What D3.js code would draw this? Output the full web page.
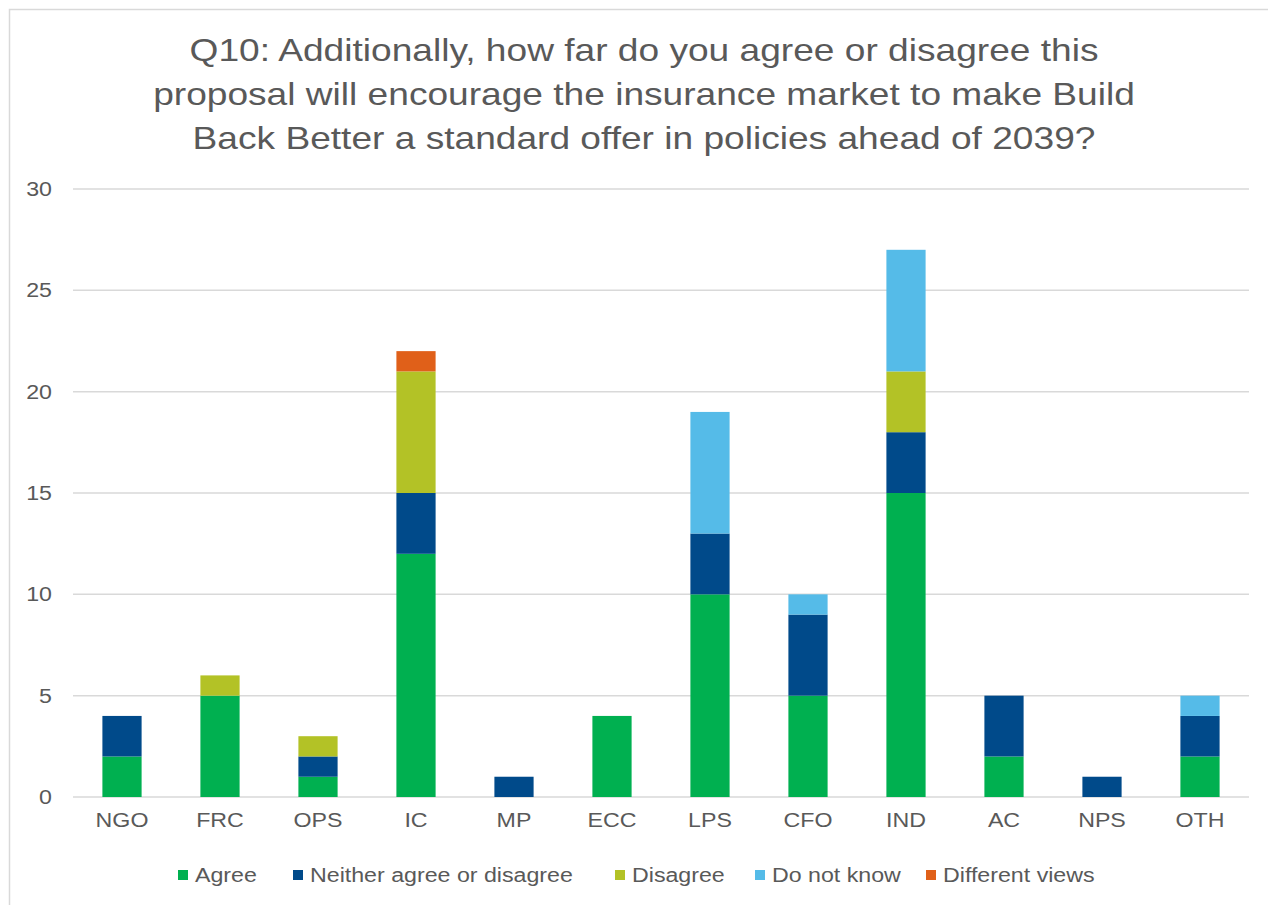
<!DOCTYPE html>
<html>
<head>
<meta charset="utf-8">
<script src="https://cdn.jsdelivr.net/npm/d3@7"></script>
<style>
  html, body { margin: 0; padding: 0; background: #fff; }
  svg { display: block; font-family: "Liberation Sans", Arial, sans-serif; }
</style>
</head>
<body>
<svg id="chart" width="1268" height="905"></svg>
<script>
// Respondent groups
const categories = ["NGO", "FRC", "OPS", "IC", "MP", "ECC", "LPS", "CFO", "IND", "AC", "NPS", "OTH"];

// Responses per group, one array per answer
const agree     = [2, 5, 1, 12, 0, 4, 10, 5, 15, 2, 0, 2];
const neither   = [2, 0, 1, 3, 1, 0, 3, 4, 3, 3, 1, 2];
const disagree  = [0, 1, 1, 6, 0, 0, 0, 0, 3, 0, 0, 0];
const doNotKnow = [0, 0, 0, 0, 0, 0, 6, 1, 6, 0, 0, 1];
const different = [0, 0, 0, 1, 0, 0, 0, 0, 0, 0, 0, 0];

const seriesNames  = ["Agree", "Neither agree or disagree", "Disagree", "Do not know", "Different views"];
const seriesColors = ["#00B050", "#004A8A", "#B3C226", "#55BBE8", "#E06019"];
const yTicks = [0, 5, 10, 15, 20, 25, 30];

const titleLines = [
  "Q10: Additionally, how far do you agree or disagree this",
  "proposal will encourage the insurance market to make Build",
  "Back Better a standard offer in policies ahead of 2039?"
];

const rows = categories.map((c, i) => ({
  cat: c,
  "Agree": agree[i],
  "Neither agree or disagree": neither[i],
  "Disagree": disagree[i],
  "Do not know": doNotKnow[i],
  "Different views": different[i]
}));

const svg = d3.select("#chart");
const textColor = "#595959";
const stretch = 1.16; // wide type
const font = "Liberation Sans, Arial, sans-serif";

// Outer frame (left and top edges visible)
svg.append("rect")
  .attr("x", 9.5).attr("y", 9.5)
  .attr("width", 1300).attr("height", 1000)
  .attr("fill", "none").attr("stroke", "#D9D9D9").attr("stroke-width", 1.5);

const plot = { left: 73, right: 1249, top: 189, bottom: 797 };

const x = d3.scaleBand().domain(categories).range([plot.left, plot.right]).paddingInner(0.6).paddingOuter(0.3);
const y = d3.scaleLinear().domain([0, 30]).range([plot.bottom, plot.top]);

// Title
svg.append("g").selectAll("text").data(titleLines).join("text")
  .attr("text-anchor", "middle")
  .attr("fill", textColor)
  .attr("font-size", 32)
  .attr("transform", (d, i) => `translate(644,${61 + i * 44}) scale(${stretch},1)`)
  .text(d => d);

// Gridlines
svg.append("g").selectAll("line").data(yTicks).join("line")
  .attr("x1", plot.left).attr("x2", plot.right)
  .attr("y1", d => y(d)).attr("y2", d => y(d))
  .attr("stroke", "#D9D9D9").attr("stroke-width", 1.5);

// Y axis labels
const yAxis = d3.axisLeft(y).tickValues(yTicks).tickSize(0).tickPadding(0);
svg.append("g")
  .attr("transform", `translate(${plot.left - 21},0)`)
  .call(yAxis)
  .call(g => g.select(".domain").remove())
  .call(g => g.selectAll("text")
    .attr("fill", textColor).attr("font-size", 20).attr("font-family", font)
    .attr("transform", `scale(${stretch},1)`));

// Stacked bars
const stacked = d3.stack().keys(seriesNames)(rows);
const color = d3.scaleOrdinal().domain(seriesNames).range(seriesColors);

svg.append("g").selectAll("g").data(stacked).join("g")
  .attr("fill", d => color(d.key))
  .selectAll("rect").data(d => d.filter(p => p[1] - p[0] > 0)).join("rect")
  .attr("x", d => x(d.data.cat))
  .attr("width", x.bandwidth())
  .attr("y", d => y(d[1]))
  .attr("height", d => y(d[0]) - y(d[1]));

// X axis labels
const xAxis = d3.axisBottom(x).tickSize(0).tickPadding(0);
svg.append("g")
  .attr("transform", `translate(0,${plot.bottom + 16})`)
  .call(xAxis)
  .call(g => g.select(".domain").remove())
  .call(g => g.selectAll("text")
    .attr("fill", textColor).attr("font-size", 20).attr("font-family", font)
    .attr("transform", `scale(${stretch},1)`));

// Legend
const legendX = [178, 293, 615, 755, 926];
const legend = svg.append("g").selectAll("g").data(seriesNames).join("g")
  .attr("transform", (d, i) => `translate(${legendX[i]},875)`);
legend.append("rect")
  .attr("x", 0).attr("y", -5).attr("width", 10).attr("height", 10)
  .attr("fill", d => color(d));
legend.append("text")
  .attr("transform", `translate(17,7) scale(${stretch},1)`)
  .attr("fill", textColor).attr("font-size", 20)
  .text(d => d);
</script>
</body>
</html>
